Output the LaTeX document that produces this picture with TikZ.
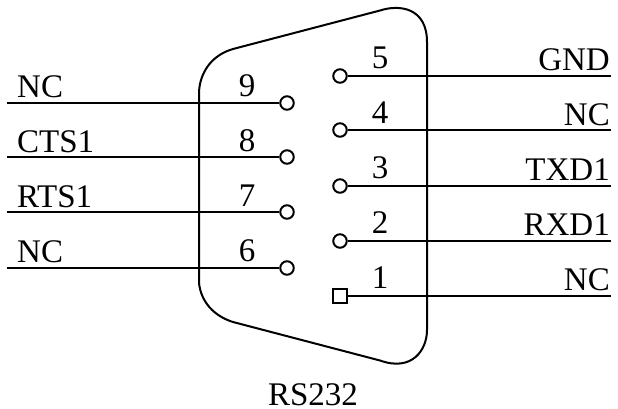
\documentclass[tikz,border=0pt]{standalone}
\usepackage{fontspec}
\setmainfont{Liberation Serif}
\tikzset{
  pin/.style={circle,draw=black,line width=2pt,fill=white,inner sep=0pt,minimum size=13.5pt},
  sqpin/.style={rectangle,draw=black,line width=2pt,fill=white,inner sep=0pt,minimum size=13.5pt},
  wire/.style={draw=black,line width=2pt},
  shell/.style={draw=black,line width=2pt},
  lab/.style={inner sep=0pt,font=\fontsize{33}{33}\selectfont,text=black},
  labb/.style={lab,anchor=base},
  labw/.style={lab,anchor=base west},
  labe/.style={lab,anchor=base east}
}
\begin{document}
\begin{tikzpicture}[x=1pt,y=-1pt]
\useasboundingbox (0,0) rectangle (618,408);
% connector shell
\draw[shell] (199,92) .. controls (200,72) and (212,55) .. (233,49)
  -- (380,10.5) .. controls (400,4) and (427,8) .. (427,42)
  -- (427,330) .. controls (427,350) and (412,372) .. (380,360.5)
  -- (233,322) .. controls (214,316) and (201,302) .. (199,283) -- cycle;
% free wire ends
\coordinate (l9) at (7,103);
\coordinate (l8) at (7,157);
\coordinate (l7) at (7,212);
\coordinate (l6) at (7,268);
\coordinate (r5) at (611,76);
\coordinate (r4) at (611,130);
\coordinate (r3) at (611,186);
\coordinate (r2) at (611,241);
\coordinate (r1) at (611,296);
% pins
\node[pin] (p9) at (287,103) {};
\node[pin] (p8) at (287,157) {};
\node[pin] (p7) at (287,212) {};
\node[pin] (p6) at (287,268) {};
\node[pin] (p5) at (340,76) {};
\node[pin] (p4) at (340,130) {};
\node[pin] (p3) at (340,186) {};
\node[pin] (p2) at (340,241) {};
\node[sqpin] (p1) at (340,296) {};
% wires
\foreach \a/\b in {l9/p9,l8/p8,l7/p7,l6/p6,r5/p5,r4/p4,r3/p3,r2/p2,r1/p1}
  \draw[wire] (\a) -- (\b);
% pin numbers
\node[labb] (n9) at (247,96) {9};
\node[labb] (n8) at (247,151) {8};
\node[labb] (n7) at (247,206) {7};
\node[labb] (n6) at (247,261) {6};
\node[labb] (n5) at (380,68) {5};
\node[labb] (n4) at (380,123) {4};
\node[labb] (n3) at (380,178) {3};
\node[labb] (n2) at (380,233) {2};
\node[labb] (n1) at (380,288) {1};
% signal names
\node[labw] (t9) at (17,97) {NC};
\node[labw] (t8) at (17,152) {CTS1};
\node[labw] (t7) at (17,207) {RTS1};
\node[labw] (t6) at (17,262) {NC};
\node[labe] (t5) at (610,70) {GND};
\node[labe] (t4) at (610,125) {NC};
\node[labe] (t3) at (610,180) {TXD1};
\node[labe] (t2) at (610,235) {RXD1};
\node[labe] (t1) at (610,290) {NC};
\node[labb] (title) at (313,405) {RS232};
\end{tikzpicture}
\end{document}
